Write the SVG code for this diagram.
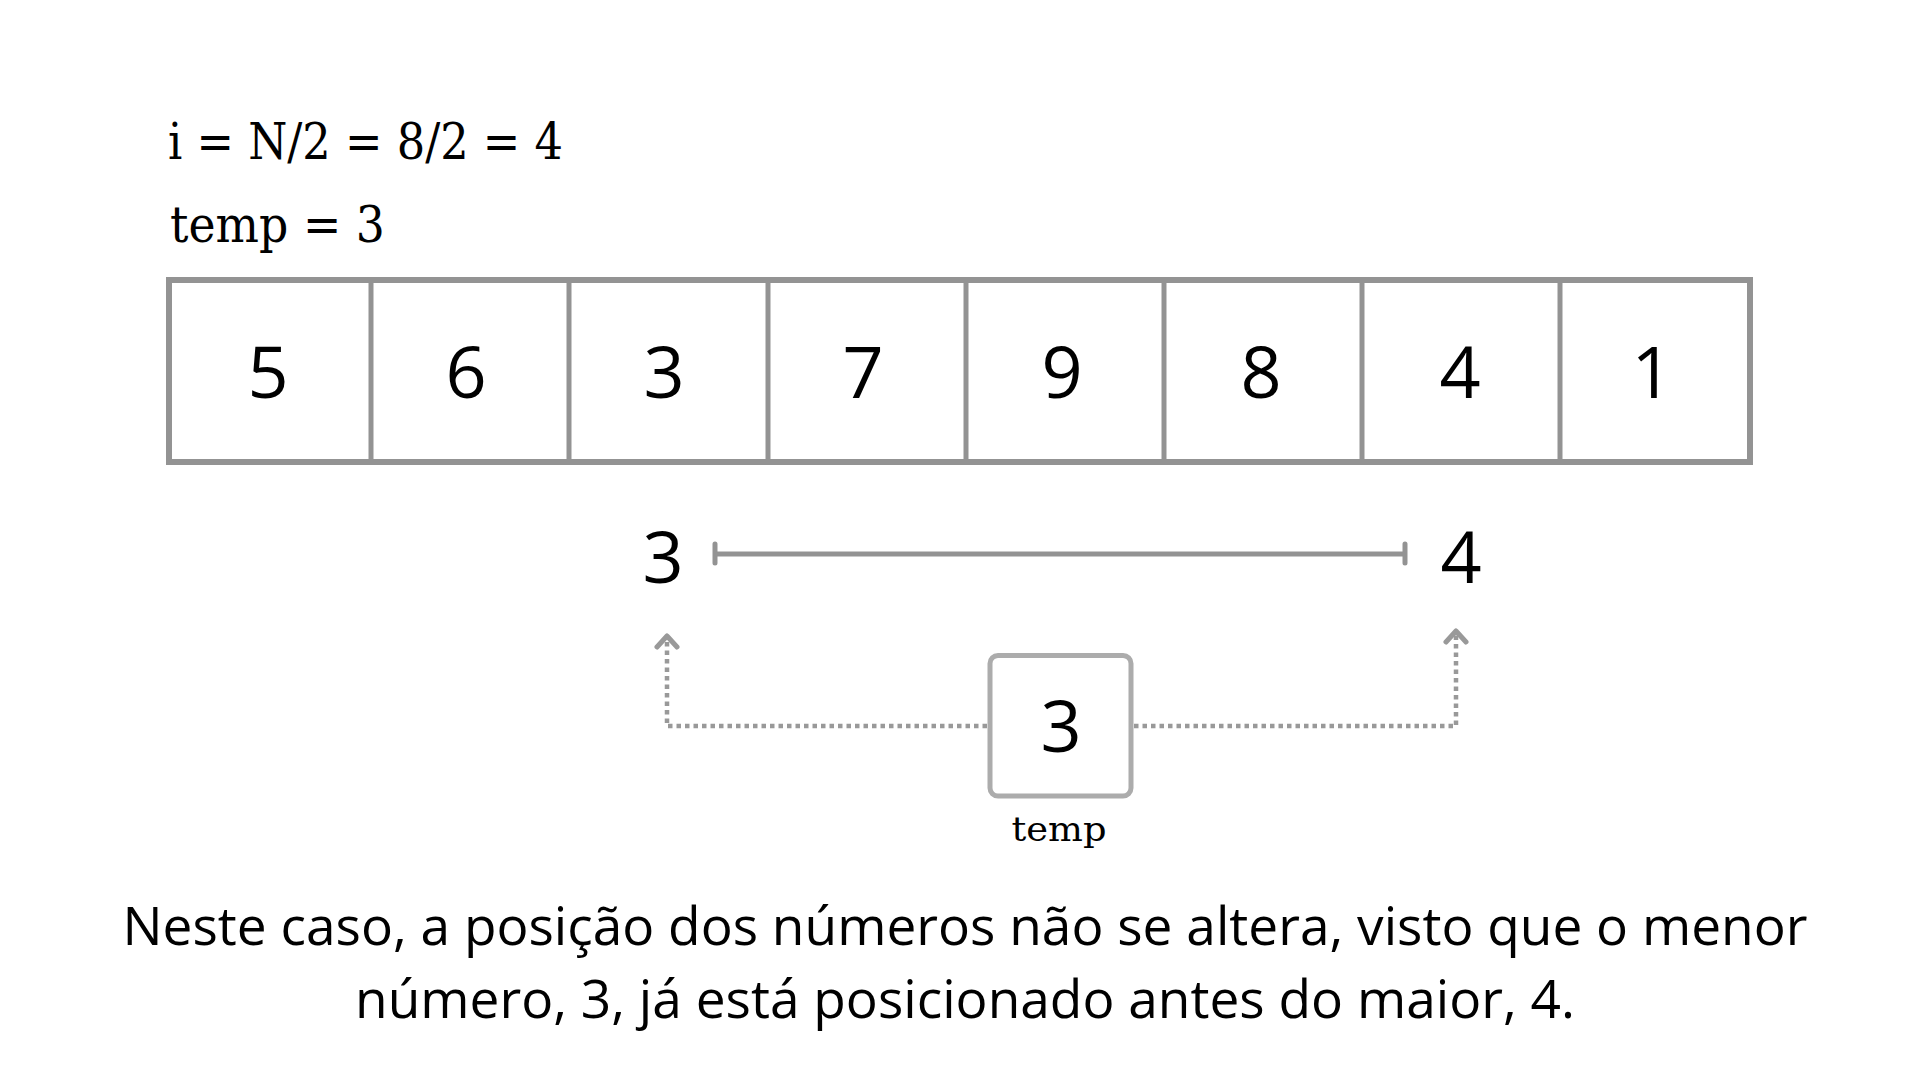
<svg xmlns="http://www.w3.org/2000/svg" width="1920" height="1080" viewBox="0 0 1920 1080">
<style>
.serif{font-family:"DejaVu Serif","Liberation Serif",serif;fill:#000}
.sans{font-family:"Open Sans","Noto Sans",sans-serif;fill:#000}
.digit{font-size:72px;text-anchor:middle}
.cell{fill:none;stroke:#939393;stroke-width:5}
.outer{fill:none;stroke:#939393;stroke-width:6}
.dim{fill:none;stroke:#939393;stroke-width:5;stroke-linecap:round}
.dot{fill:none;stroke:#999;stroke-width:4.5;stroke-dasharray:4.5 4}
</style>
<defs>
<marker id="chev" markerUnits="userSpaceOnUse" viewBox="-15 -13 18 26" refX="0" refY="0" markerWidth="18" markerHeight="26" orient="auto">
<path d="M-11,-10 L0,0 L-11,10" fill="none" stroke="#999" stroke-width="5" stroke-linecap="round" stroke-linejoin="round" stroke-dasharray="none"/>
</marker>
</defs>
<rect width="1920" height="1080" fill="#fff"/>

<g id="header">
<text class="serif" x="168" y="159" font-size="50" textLength="395" lengthAdjust="spacingAndGlyphs">i = N/2 = 8/2 = 4</text>
<text class="serif" x="170" y="242" font-size="50" textLength="215" lengthAdjust="spacingAndGlyphs">temp = 3</text>
</g>

<g id="array">
<rect class="outer" x="169" y="280" width="1581" height="182"/>
<g id="cell-0"><text class="sans digit" x="268" y="398">5</text></g>
<g id="cell-1"><line class="cell" x1="371" y1="280" x2="371" y2="462"/><text class="sans digit" x="466" y="398">6</text></g>
<g id="cell-2"><line class="cell" x1="569" y1="280" x2="569" y2="462"/><text class="sans digit" x="664" y="398">3</text></g>
<g id="cell-3"><line class="cell" x1="768" y1="280" x2="768" y2="462"/><text class="sans digit" x="863" y="398">7</text></g>
<g id="cell-4"><line class="cell" x1="966" y1="280" x2="966" y2="462"/><text class="sans digit" x="1062" y="398">9</text></g>
<g id="cell-5"><line class="cell" x1="1164" y1="280" x2="1164" y2="462"/><text class="sans digit" x="1261" y="398">8</text></g>
<g id="cell-6"><line class="cell" x1="1362" y1="280" x2="1362" y2="462"/><text class="sans digit" x="1460" y="398">4</text></g>
<g id="cell-7"><line class="cell" x1="1560" y1="280" x2="1560" y2="462"/><text class="sans digit" x="1652" y="398">1</text></g>
</g>

<g id="node-left"><text class="sans digit" x="663" y="583">3</text></g>
<g id="node-right"><text class="sans digit" x="1461" y="583">4</text></g>

<g id="node-temp">
<rect x="990" y="655.5" width="141" height="140.5" rx="8" fill="#fff" stroke="#acacac" stroke-width="5"/>
<text class="sans digit" x="1061" y="752">3</text>
<text class="serif" x="1059" y="841" font-size="33" text-anchor="middle" textLength="95" lengthAdjust="spacingAndGlyphs">temp</text>
</g>

<g id="connectors">
<path class="dim" d="M715,554 H1405 M715,544 V563 M1405,544 V563"/>
<path class="dot" d="M987,726 H667 V636" marker-end="url(#chev)"/>
<path class="dot" d="M1134,726 H1456 V631" marker-end="url(#chev)"/>
</g>

<g id="caption">
<text class="sans" x="965" y="945" font-size="53" text-anchor="middle" textLength="1685" lengthAdjust="spacingAndGlyphs">Neste caso, a posição dos números não se altera, visto que o menor</text>
<text class="sans" x="965" y="1018" font-size="53" text-anchor="middle" textLength="1220" lengthAdjust="spacingAndGlyphs">número, 3, já está posicionado antes do maior, 4.</text>
</g>
</svg>
